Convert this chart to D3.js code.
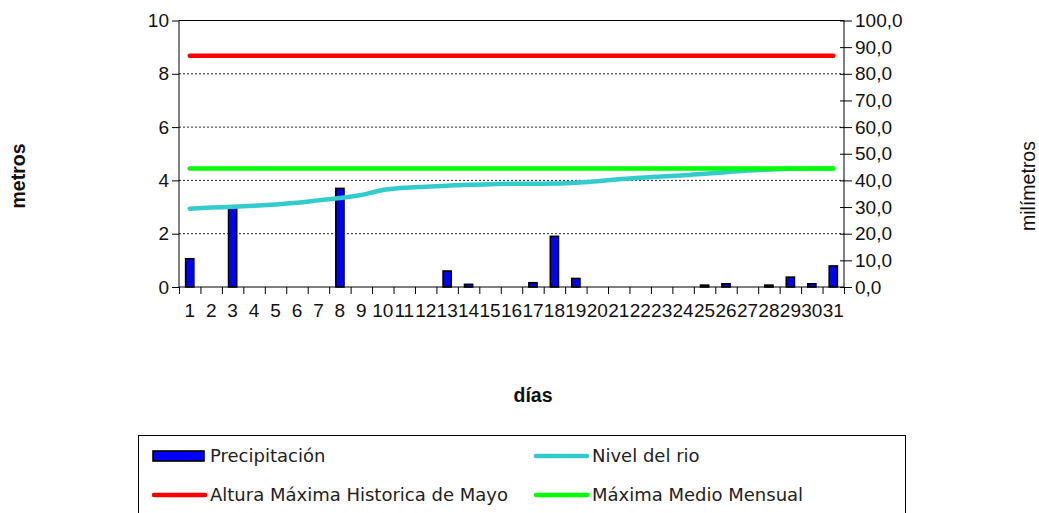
<!DOCTYPE html>
<html><head><meta charset="utf-8">
<script src="https://cdn.jsdelivr.net/npm/d3@7"></script>
<style>
html,body{margin:0;padding:0;background:#fff;}
svg{display:block;}
</style></head>
<body>
<script>
// ---- data ----
const days = d3.range(1, 32).map(String);
const precipitacion = [10.6,0,30.2,0,0,0,0,37.0,0,0,0,0,6.0,1.0,0,0,1.6,19.0,3.2,0,0,0,0,0,0.7,1.2,0,0.7,3.7,1.2,7.9];
const nivelRio = [2.94,2.98,3.01,3.05,3.10,3.16,3.25,3.34,3.45,3.64,3.72,3.76,3.80,3.84,3.86,3.87,3.87,3.88,3.91,3.97,4.04,4.10,4.15,4.19,4.25,4.31,4.37,4.41,4.44,4.45,4.45];
const alturaMaxHistorica = days.map(() => 8.68);
const maximaMedioMensual = days.map(() => 4.45);
const leftTicks = [0,2,4,6,8,10];
const rightTicks = d3.range(0, 101, 10);
const legendItems = [
  {name:"Precipitación", type:"bar", color:"#0000ff"},
  {name:"Nivel del rio", type:"line", color:"#33cccc"},
  {name:"Altura Máxima Historica de Mayo", type:"line", color:"#ff0000"},
  {name:"Máxima Medio Mensual", type:"line", color:"#00ff00"}
];

const W = 1039, H = 513;
const svg = d3.select("body").append("svg").attr("width", W).attr("height", H);
const L = 179, R = 844, T = 20.5, B = 287;
const x = d3.scaleBand().domain(days).range([L, R]).padding(0);
const xLin = d3.scaleLinear().domain([0, 31]).range([L, R]);
const yL = d3.scaleLinear().domain([0, 10]).range([B, T]);
const yR = d3.scaleLinear().domain([0, 100]).range([B, T]);
const axisFont = "'Liberation Sans', Arial, sans-serif";

// gridlines
svg.append("g").selectAll("line").data([2,4,6,8]).join("line")
  .attr("x1", L).attr("x2", R).attr("y1", d => yL(d)).attr("y2", d => yL(d))
  .attr("stroke", "#000").attr("stroke-width", 1).attr("stroke-dasharray", "2,2").attr("opacity", 0.85);
// top border
svg.append("line").attr("x1", L).attr("x2", R).attr("y1", yL(10)).attr("y2", yL(10)).attr("stroke", "#000");

// bars
const bw = x.bandwidth() * 0.38;
svg.append("g").selectAll("rect").data(days.map((d,i)=>({d, v: precipitacion[i]})).filter(o=>o.v>0)).join("rect")
  .attr("x", o => x(o.d) + x.bandwidth()/2 - bw/2)
  .attr("width", bw)
  .attr("y", o => yR(o.v))
  .attr("height", o => B - yR(o.v))
  .attr("fill", "#0000ff").attr("stroke", "#000").attr("stroke-width", 1.6);

// lines
const cx = d => x(d) + x.bandwidth()/2;
function drawLine(vals, color, curve) {
  svg.append("path").datum(vals)
    .attr("d", d3.line().x((v,i) => cx(days[i])).y(v => yL(v)).curve(curve || d3.curveLinear))
    .attr("fill", "none").attr("stroke", color).attr("stroke-width", 4.5)
    .attr("stroke-linecap", "round").attr("stroke-linejoin", "round");
}
drawLine(alturaMaxHistorica, "#ff0000");
drawLine(nivelRio, "#33cccc", d3.curveMonotoneX);
drawLine(maximaMedioMensual, "#00ff00");

// left axis
const gl = svg.append("g").attr("transform", `translate(${L},0)`)
  .call(d3.axisLeft(yL).tickValues(leftTicks).tickSize(7).tickPadding(3).tickFormat(d3.format("d")));
// right axis
const gr = svg.append("g").attr("transform", `translate(${R},0)`)
  .call(d3.axisRight(yR).tickValues(rightTicks).tickSize(8).tickPadding(3).tickFormat(d => d.toFixed(1).replace(".", ",")));
gr.selectAll(".tick line").attr("x1", -4);
// bottom axis ticks (boundaries)
const gb = svg.append("g").attr("transform", `translate(0,${B})`)
  .call(d3.axisBottom(xLin).tickValues(d3.range(0, 32)).tickSize(7).tickFormat(""));
// bottom labels
const gbl = svg.append("g").attr("transform", `translate(0,${B})`)
  .call(d3.axisBottom(x).tickSize(0).tickPadding(17));
gbl.select(".domain").remove();

[gl, gr, gb, gbl].forEach(g => {
  g.selectAll("text").attr("font-family", axisFont).attr("font-size", 19).attr("fill", "#111");
  g.select(".domain").attr("stroke", "#000");
  g.selectAll(".tick line").attr("stroke", "#000");
});
gb.select(".domain").attr("d", `M${L},0H${R}`);
gl.select(".domain").attr("d", `M0,${B}V${T}`);
gr.select(".domain").attr("d", `M0,${B}V${T}`);

// axis titles
svg.append("text").attr("transform", "translate(25,176) rotate(-90)")
  .attr("text-anchor", "middle").attr("font-family", axisFont).attr("font-weight", "bold").attr("font-size", 19.5).attr("fill", "#111").text("metros");
svg.append("text").attr("transform", "translate(1035,186) rotate(-90)")
  .attr("text-anchor", "middle").attr("font-family", axisFont).attr("font-size", 19.5).attr("fill", "#111").text("milímetros");
svg.append("text").attr("x", 533).attr("y", 401.5)
  .attr("text-anchor", "middle").attr("font-family", axisFont).attr("font-weight", "bold").attr("font-size", 19.5).attr("fill", "#111").text("días");

// legend
const lg = svg.append("g");
lg.append("rect").attr("x", 138.5).attr("y", 435.5).attr("width", 767).attr("height", 100)
  .attr("fill", "#fff").attr("stroke", "#000").attr("stroke-width", 1);
const cols = [153, 535], rows = [456, 495];
legendItems.forEach((it, i) => {
  const gx = cols[i % 2], gy = rows[Math.floor(i / 2)];
  if (it.type === "bar") {
    lg.append("rect").attr("x", gx).attr("y", gy - 5).attr("width", 51).attr("height", 10)
      .attr("fill", it.color).attr("stroke", "#000").attr("stroke-width", 1.6);
  } else {
    lg.append("line").attr("x1", gx + 1).attr("x2", gx + 52).attr("y1", gy).attr("y2", gy)
      .attr("stroke", it.color).attr("stroke-width", 4.5).attr("stroke-linecap", "round");
  }
  lg.append("text").attr("x", gx + 57).attr("y", gy).attr("dy", "0.35em")
    .attr("font-family", "'DejaVu Sans', Verdana, sans-serif").attr("font-size", 18).attr("fill", "#222")
    .text(it.name);
});
</script>
</body></html>
